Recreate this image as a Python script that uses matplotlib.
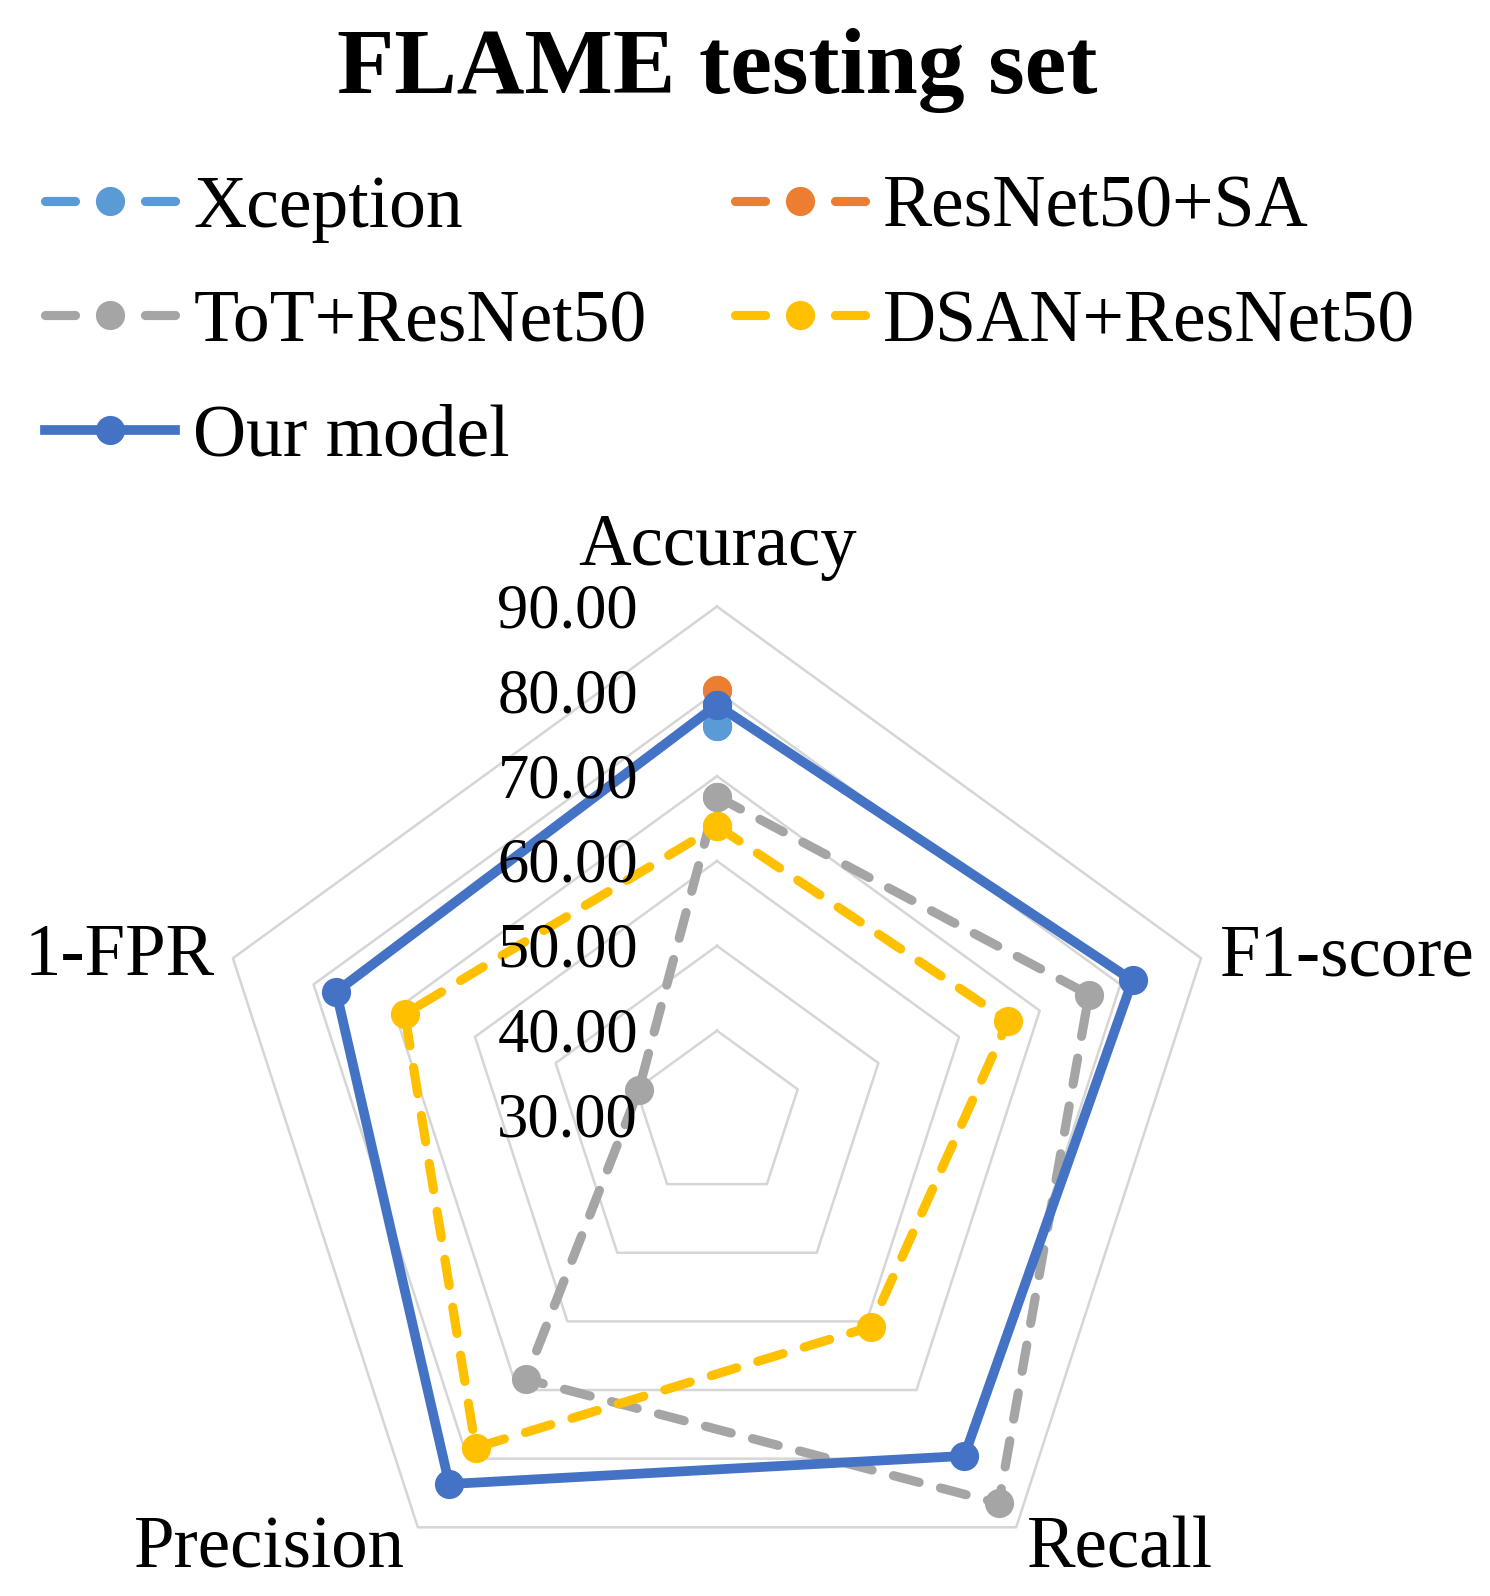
import numpy as np
import matplotlib
matplotlib.use("Agg")
import matplotlib.pyplot as plt
from matplotlib.lines import Line2D
from matplotlib.transforms import offset_copy

# ---------------- data ----------------
categories = ["Accuracy", "F1-score", "Recall", "Precision", "1-FPR"]
series_names = ["Xception", "ResNet50+SA", "ToT+ResNet50", "DSAN+ResNet50", "Our model"]
xception = [75.9, np.nan, np.nan, np.nan, np.nan]
resnet50_sa = [80.2, np.nan, np.nan, np.nan, np.nan]
tot_resnet50 = [67.6, 76.1, 86.5, 68.4, 39.7]
dsan_resnet50 = [64.1, 66.1, 60.8, 78.4, 68.7]
our_model = [78.4, 81.5, 79.6, 83.7, 77.2]
r_ticks = [30, 40, 50, 60, 70, 80, 90]
r_tick_labels = ["30.00", "40.00", "50.00", "60.00", "70.00", "80.00", "90.00"]
title = "FLAME testing set"

# ---------------- style ----------------
colors = ["#5B9BD5", "#ED7D31", "#A5A5A5", "#FFC000", "#4472C4"]
plt.rcParams["font.family"] = ["Liberation Serif", "DejaVu Serif"]

W, H = 1490, 1596
fig = plt.figure(figsize=(W / 100, H / 100), dpi=100)

cx, cy, R = 717, 1115.5, 509
ax = fig.add_axes([(cx - R) / W, (H - cy - R) / H, 2 * R / W, 2 * R / H], projection="polar")
ax.set_theta_offset(np.pi / 2)
ax.set_theta_direction(-1)
ax.set_ylim(r_ticks[0], r_ticks[-1])
ax.grid(False)
ax.spines["polar"].set_visible(False)
ax.set_xticks([])
ax.set_yticks([])
ax.patch.set_alpha(0)

n = len(categories)
angles = [2 * np.pi * i / n for i in range(n)]
angles_c = angles + [angles[0]]

# pentagon grid
for r in r_ticks[1:]:
    ax.plot(angles_c, [r] * (n + 1), color="#D6D6D6", lw=1.8, zorder=1, clip_on=False)

LW_D, LW_S, MS = 6.6, 7.0, 21
all_series = [xception, resnet50_sa, tot_resnet50, dsan_resnet50, our_model]
for vals, name, col in zip(all_series, series_names, colors):
    vc = list(vals) + [vals[0]]
    if name == "Our model":
        ax.plot(angles_c, vc, color=col, lw=LW_S, marker="o", ms=MS, mew=0,
                solid_joinstyle="round", zorder=5, clip_on=False)
    else:
        ax.plot(angles_c, vc, color=col, lw=LW_D, ls=(0, (2.9, 2.4)),
                dash_capstyle="round", marker="o", ms=MS, mew=0,
                zorder=3, clip_on=False)

# radial tick labels
tr = offset_copy(ax.transData, fig=fig, x=-79, y=-21, units="dots")
for r, lab in zip(r_ticks, r_tick_labels):
    ax.text(0, r, lab, transform=tr, ha="right", va="baseline", fontsize=45,
            color="black", zorder=10)

# category labels (pixel positions)
cat_pos = {
    "Accuracy": (718, 565, "center"),
    "F1-score": (1220, 975, "left"),
    "Recall": (1027, 1567, "left"),
    "Precision": (405, 1567, "right"),
    "1-FPR": (215, 975, "right"),
}
for c in categories:
    x, y, ha = cat_pos[c]
    fig.text(x / W, 1 - y / H, c, ha=ha, va="baseline", fontsize=52.5, color="black")

# title
fig.text(717 / W, 1 - 93 / H, title, ha="center", va="baseline", fontsize=67.5,
         fontweight="bold", color="black")

# legend proxies
fs_leg = 53
lw_px = LW_D * 100 / 72
L_px = 130
a_px = 30
proxies = {}
for name, col in zip(series_names, colors):
    if name == "Our model":
        proxies[name] = Line2D([], [], color=col, lw=LW_S, marker="o", ms=MS, mew=0)
    else:
        proxies[name] = Line2D([], [], color=col, lw=LW_D,
                               ls=(0, (a_px / lw_px, (L_px - 2 * a_px) / lw_px)),
                               dash_capstyle="round", marker="o", ms=MS, mew=0)
order = ["Xception", "ToT+ResNet50", "Our model", "ResNet50+SA", "DSAN+ResNet50"]
fig.legend([proxies[o] for o in order], order, loc="upper left",
           bbox_to_anchor=(45 / W, 1 - 175 / H), ncol=2, frameon=False,
           fontsize=fs_leg, handlelength=L_px / (fs_leg * 100 / 72),
           handletextpad=0.25, columnspacing=1.2, labelspacing=0.64,
           borderpad=0, borderaxespad=0)

fig.savefig("out.png", dpi=100)
